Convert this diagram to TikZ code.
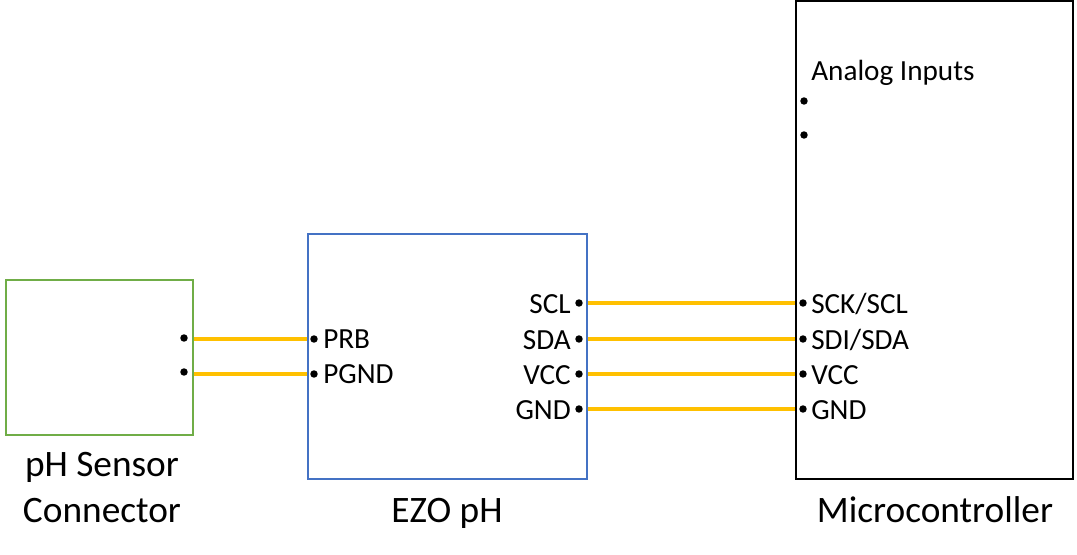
\documentclass[tikz,border=0pt]{standalone}
\usepackage{fontspec}
\setmainfont{Carlito}
\usetikzlibrary{calc}
\definecolor{sensorgreen}{HTML}{70AD47}
\definecolor{ezoblue}{HTML}{4472C4}
\definecolor{wiregold}{HTML}{FFC000}
\tikzset{
  box/.style={draw, line width=1.5pt, anchor=north west, inner sep=0pt},
  pin/.style={circle, fill=black, inner sep=0pt, minimum size=5.6pt},
  wire/.style={wiregold, line width=2.3pt},
  lab/.style={inner sep=0pt, font=\fontsize{21.9}{22}\selectfont},
  title/.style={inner sep=0pt, anchor=base, font=\fontsize{28}{28}\selectfont}
}
\begin{document}
\begin{tikzpicture}[x=0.75pt, y=-0.75pt]
\useasboundingbox (0,0) rectangle (1077,555);
\node[box, sensorgreen, minimum width=140.25pt, minimum height=116.25pt] (sensor) at (5,279) {};
\node[box, ezoblue, minimum width=209.25pt, minimum height=183.75pt] (ezo) at (307,233) {};
\node[box, black, minimum width=207.75pt, minimum height=358.5pt] (mcu) at (795,0) {};
% titles
\node[title] (sensortop) at (102,476) {pH Sensor};
\node[title] (sensorbot) at (102,522) {Connector};
\node[title] (ezotitle) at (447,522) {EZO pH};
\node[title] (mcutitle) at (935,522) {Microcontroller};
% sensor and probe side
\node[pin] (sensora) at (184,338) {};
\node[pin] (sensorb) at (184,372) {};
\node[pin] (prb) at (314,339) {};
\node[pin] (pgnd) at (314,374) {};
\node[lab, anchor=base west] (prblab) at (323,349) {PRB};
\node[lab, anchor=base west] (pgndlab) at (323,384) {PGND};
\draw[wire] (sensor.east |- prb) -- (ezo.west |- prb);
\draw[wire] (sensor.east |- pgnd) -- (ezo.west |- pgnd);
% analog inputs
\node[lab, anchor=base west] (analog) at (811,81) {Analog Inputs};
\node[pin] (analoga) at (804,101) {};
\node[pin] (analogb) at (804,135) {};
% bus between ezo and microcontroller
\foreach \n/\l/\r/\y in {a/SCL/SCK\slash SCL/303,b/SDA/SDI\slash SDA/339,c/VCC/VCC/374,d/GND/GND/409}{
  \node[pin] (ezo\n) at (579,\y) {};
  \node[pin] (mcu\n) at (803,\y) {};
  \node[lab, anchor=base east] (ezolab\n) at (571,\y+10.5) {\l};
  \node[lab, anchor=base west] (mculab\n) at (811,\y+10.5) {\r};
  \draw[wire] (ezo.east |- ezo\n) -- (mcu.west |- mcu\n);
}
\end{tikzpicture}
\end{document}
